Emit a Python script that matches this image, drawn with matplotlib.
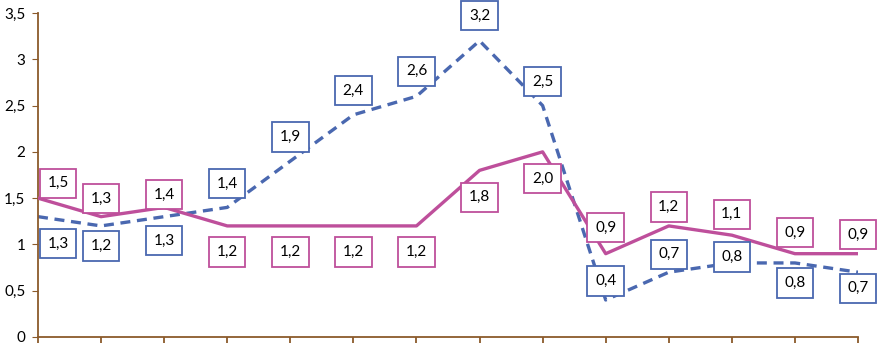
import matplotlib.pyplot as plt
import numpy as np

plt.rcParams['font.family'] = ['Lato', 'DejaVu Sans']

# values
purple_vals = [1.5, 1.3, 1.4, 1.2, 1.2, 1.2, 1.2, 1.8, 2.0, 0.9, 1.2, 1.1, 0.9, 0.9]
blue_vals = [1.3, 1.2, 1.3, 1.4, 1.9, 2.4, 2.6, 3.2, 2.5, 0.4, 0.7, 0.8, 0.8, 0.7]
purple_labels = ['1,5', '1,3', '1,4', '1,2', '1,2', '1,2', '1,2', '1,8', '2,0', '0,9', '1,2', '1,1', '0,9', '0,9']
blue_labels = ['1,3', '1,2', '1,3', '1,4', '1,9', '2,4', '2,6', '3,2', '2,5', '0,4', '0,7', '0,8', '0,8', '0,7']
yticks = [0, 0.5, 1, 1.5, 2, 2.5, 3, 3.5]
ytick_labels = ['0', '0,5', '1', '1,5', '2', '2,5', '3', '3,5']

# label offsets in pixels (dx, dy up)
purple_off = [(20, 15), (0, 18), (0, 13), (0, -26), (0, -26), (0, -26), (0, -26),
              (0, -27), (0, -27), (0, 26), (0, 19), (0, 21), (0, 21), (0, 19)]
blue_off = [(20, -27), (0, -20), (0, -24), (0, 24), (0, 24), (0, 24), (0, 25),
            (0, 25), (0, 24), (0, 19), (0, 18), (0, 6), (0, -20), (0, -16)]

purple = '#BE4F9B'
blue = '#4A68B0'
brown = '#8B5A2B'

x = np.arange(len(purple_vals))

fig = plt.figure(figsize=(8.78, 3.43), dpi=100)
ax = fig.add_axes([38/878, 6/343, 820/878, 324/343])

ax.plot(x, blue_vals, color=blue, lw=2.4, dashes=(3.0, 2.0), zorder=2)
ax.plot(x, purple_vals, color=purple, lw=2.4, zorder=3)

for xi, v, s, (dx, dy) in zip(x, purple_vals, purple_labels, purple_off):
    ax.annotate(s, (xi, v), xytext=(dx*0.72, dy*0.72), textcoords='offset points',
                ha='center', va='center', fontsize=11, color='black', zorder=5,
                bbox=dict(boxstyle='square,pad=0.5', fc='white', ec=purple, lw=1.3))
for xi, v, s, (dx, dy) in zip(x, blue_vals, blue_labels, blue_off):
    ax.annotate(s, (xi, v), xytext=(dx*0.72, dy*0.72), textcoords='offset points',
                ha='center', va='center', fontsize=11, color='black', zorder=5,
                bbox=dict(boxstyle='square,pad=0.5', fc='white', ec=blue, lw=1.3))

ax.set_xlim(0, len(x) - 1)
ax.set_ylim(0, 3.5)
ax.set_yticks(yticks)
ax.set_yticklabels(ytick_labels)
ax.set_xticks(x)
ax.set_xticklabels([])
ax.spines['top'].set_visible(False)
ax.spines['right'].set_visible(False)
ax.spines['left'].set_color(brown)
ax.spines['bottom'].set_color(brown)
ax.spines['left'].set_linewidth(1.3)
ax.spines['bottom'].set_linewidth(1.3)
ax.tick_params(axis='y', direction='out', length=4, color=brown, labelsize=11, pad=5)
ax.tick_params(axis='x', direction='out', length=10, color=brown, width=1.3)

fig.savefig('out.png', dpi=100)
